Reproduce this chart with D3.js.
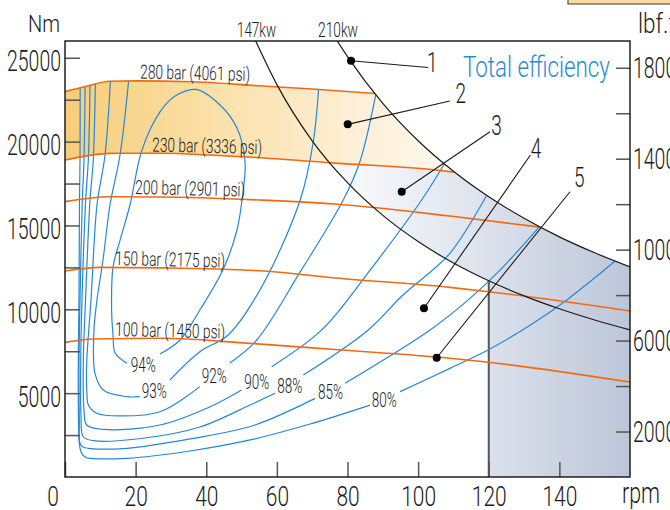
<!DOCTYPE html>
<html><head><meta charset="utf-8">
<script src="https://cdn.jsdelivr.net/npm/d3@7"></script>
<style>
html,body{margin:0;padding:0;background:#fff;overflow:hidden}
svg{display:block}
text{font-family:Roboto,"Liberation Sans",Arial,sans-serif;font-weight:300;fill:#1a1a1a}
</style></head><body>
<svg id="chart" width="670" height="510"></svg>
<script>
// ---------- data ----------
const rpmTicks = [0, 20, 40, 60, 80, 100, 120, 140];
const torqueTicks = [5000, 10000, 15000, 20000, 25000];
const torqueMinorTicks = [2500, 7500, 12500, 17500, 22500];
const lbfTicks = [2000, 6000, 10000, 14000, 18000];
const lbfMinorTicks = [4000, 8000, 12000, 16000];

// pressure lines [rpm, Nm]
const bar280 = [[0,22980],[6,23300],[12.7,23600],[20,23620],[36,23570],[55,23330],[71,23120],[87.8,22870]];
const bar230 = [[0,18900],[12.7,19300],[27,19310],[41,19200],[55,19040],[76.5,18720],[109,18210],[110.4,18170]];
const bar200 = [[0,16420],[12.7,16710],[27,16700],[55,16520],[76.5,16280],[109,15560],[134.6,14900]];
const bar150 = [[0,12280],[9.9,12500],[27,12470],[55,12300],[76.5,11870],[109,11310],[120,11050],[160,9900]];
const bar100 = [[0,8030],[7.9,8230],[27,8270],[52.4,7970],[76.5,7600],[109,7080],[120,6840],[160,5660]];
const pressureNames = ["280 bar (4061 psi)","230 bar (3336 psi)","200 bar (2901 psi)","150 bar (2175 psi)","100 bar (1450 psi)"];

// power curves [rpm, Nm]
const kw147 = [[54,26000],[60,23400],[70,20050],[80,17550],[90,15600],[100,14040],[110,12760],[120,11700],[130,10800],[140,10030],[150,9360],[160,8770]];
const kw210 = [[77.1,26000],[80,25070],[90,22280],[100,20050],[110,18230],[120,16710],[130,15430],[140,14320],[150,13370],[160,12530]];
const powerNames = ["147kw","210kw"];
const limitRpm = 120;

// efficiency contours: a = before label, b = after label
const eff80a = [[4.3,23500],[4.25,18900],[4.11,16520],[3.96,10560],[3.77,6800],[3.82,3400],[4.11,1910],[4.73,1410],[5.95,1160],[7.08,1115],[17.5,1115],[35.4,1550],[52.4,2210],[69.4,3160],[86.4,4290]];
const eff80b = [[94.9,5090],[109,6480],[120.2,7620],[131.8,9060],[142.1,10560],[156.5,13000]];
const eff85a = [[5.7,23500],[5.38,18900],[4.9,16520],[4.25,10560],[3.96,6800],[4.05,3400],[4.25,2010],[5.1,1790],[6.6,1710],[17.5,1710],[35.4,2270],[53.8,3100],[70.8,4690]];
const eff85b = [[79.3,5590],[103.4,8770],[114.2,10560],[123.2,12340],[135.5,15200]];
const eff88a = [[7.1,23550],[6.6,18900],[5.86,16520],[4.81,10560],[4.45,6800],[4.53,3700],[5.18,2400],[8.01,2165],[22.2,2310],[38.2,2980],[52.4,4290],[59.5,4990]];
const eff88b = [[67.5,6080],[85.9,8770],[95.7,10850],[109,13340],[120.2,17100]];
const eff90a = [[8.6,23600],[8.01,18900],[7.08,16520],[5.81,10560],[5.18,6800],[5.38,4000],[6.15,3100],[10.85,2840],[26.9,3100],[41.1,4190],[50,5190]];
const eff90b = [[58.5,6580],[72.7,8770],[86.4,12340],[101,16520],[108.1,18900]];
const eff92a = [[12.9,23800],[11.33,19200],[9.06,16220],[7.36,10560],[6.15,6800],[6.23,4890],[6.6,4290],[8.98,3800],[15.6,3640],[26.9,3890],[38.2,5390]];
const eff92b = [[46.7,6800],[54.3,8170],[66.6,12230],[78.8,16520],[83.5,18800],[88.3,23100]];
const eff93a = [[18.1,23800],[15.58,19200],[12.74,16220],[10.76,12940],[9.06,10560],[8.21,8770],[8.5,6180],[10.85,5190],[17.5,4790],[21.2,4790]];
const eff93b = [[29.7,5780],[38.2,7470],[46.2,8470],[55.2,11150],[66.6,16520],[70.3,19990],[71.9,23400]];
const eff94 = [[26.9,7340],[32.6,8170],[38.2,9960],[44.7,12340],[48.7,14730],[50.4,17000],[51,18780],[48.7,20810],[43.9,22180],[37.1,23110],[31.2,22720],[26.9,21770],[21.8,19500],[18.4,16220],[15.6,14130],[13.6,12520],[13.2,9960],[13.6,8470],[14.2,7390],[17.5,6780]];
const effLabels = ["94%","93%","92%","90%","88%","85%","80%"];

// callouts: dot [rpm,Nm], leader end [rpm,Nm], label pos [rpm,Nm]
const calloutNames = ["1","2","3","4","5"];
const calloutDots = [[81.0,24820],[80.06,21030],[95.35,17010],[101.66,10060],[105.26,7110]];
const calloutEnds = [[102.8,24420],[109.0,22420],[120.35,20590],[131.8,19200],[143.0,17010]];
const calloutLabels = [[104.0,24170],[112.1,22280],[122.2,20390],[133.4,19000],[145.6,17310]];

// ---------- layout ----------
const svg = d3.select("#chart");
const x = d3.scaleLinear().domain([0,160]).range([65,630]);
const y = d3.scaleLinear().domain([0,26000]).range([477,41]);
const y2 = d3.scaleLinear().domain([0,26000/1.35582]).range([477,41]);

const lineM = d3.line().x(d=>x(d[0])).y(d=>y(d[1])).curve(d3.curveMonotoneX);
const lineC = d3.line().x(d=>x(d[0])).y(d=>y(d[1])).curve(d3.curveCatmullRom.alpha(0.5));
const cont = s => s.replace(/^M/,"L");
const P = (a,b) => `${x(a)},${y(b)}`;

const defs = svg.append("defs");
function underClip(id, pts){
  const last = pts[pts.length-1];
  defs.append("clipPath").attr("id",id).append("path")
    .attr("d", `M${P(0,0)}L${P(0,pts[0][1])}` + cont(lineM(pts)) + `L${P(160,last[1])}L${P(160,0)}Z`);
}
underClip("clip280", bar280);
underClip("clip230", bar230);
underClip("clip210", kw210);
defs.append("clipPath").attr("id","clipPlot").append("rect")
  .attr("x",x(0)).attr("y",y(26000)).attr("width",x(160)-x(0)).attr("height",y(0)-y(26000));

const gOr = defs.append("linearGradient").attr("id","gOr").attr("gradientUnits","userSpaceOnUse")
  .attr("x1",x(0)).attr("x2",x(112)).attr("y1",0).attr("y2",0);
[[0,"#f7cd78"],[0.4,"#fbe1ab"],[0.72,"#fdefd4"],[1,"#fffaf1"]].forEach(s=>gOr.append("stop").attr("offset",s[0]).attr("stop-color",s[1]));
const gBl = defs.append("linearGradient").attr("id","gBl").attr("gradientUnits","userSpaceOnUse")
  .attr("x1",x(75)).attr("x2",x(160)).attr("y1",0).attr("y2",0);
[[0,"#fbfcfd"],[0.38,"#e5e9f1"],[1,"#bcc6d8"]].forEach(s=>gBl.append("stop").attr("offset",s[0]).attr("stop-color",s[1]));

// top-right box (partially visible)
svg.append("rect").attr("x",568).attr("y",-20).attr("width",120).attr("height",24)
  .attr("fill","#fbd99d").attr("stroke","#555").attr("stroke-width",1.2);

const plot = svg.append("g").attr("clip-path","url(#clipPlot)");

// orange band between 280 and 230 bar, under 210 kW
plot.append("g").attr("clip-path","url(#clip210)").append("path")
  .attr("d", lineM(bar280) + cont(lineM(bar230.slice().reverse())) + "Z")
  .attr("fill","url(#gOr)");

// blue region between power curves (under 230 bar) and right of limit rpm
const kw147Part = kw147.filter(d=>d[0]<=limitRpm).reverse();
plot.append("g").attr("clip-path","url(#clip230)").append("path")
  .attr("d", lineM(kw210) + `L${P(160,0)}L${P(limitRpm,0)}` + cont(lineM(kw147Part)) + "Z")
  .attr("fill","url(#gBl)");

// limit line at 120 rpm
const limTop = kw147.find(d=>d[0]===limitRpm);
plot.append("line").attr("x1",x(limitRpm)).attr("x2",x(limitRpm))
  .attr("y1",y(limTop[1])).attr("y2",y(0)).attr("stroke","#555").attr("stroke-width",2);

// efficiency contours
const cg = plot.append("g").attr("clip-path","url(#clip210)").append("g").attr("clip-path","url(#clip280)");
[eff80a,eff80b,eff85a,eff85b,eff88a,eff88b,eff90a,eff90b,eff92a,eff92b,eff93a,eff93b,eff94].forEach(c=>{
  cg.append("path").attr("d",lineC(c)).attr("fill","none").attr("stroke","#2487da").attr("stroke-width",1.2);
});

// pressure lines
[bar280,bar230,bar200,bar150,bar100].forEach(b=>{
  plot.append("path").attr("d",lineM(b)).attr("fill","none").attr("stroke","#f26a10").attr("stroke-width",1.6);
});

// power curves
[kw147,kw210].forEach(k=>{
  plot.append("path").attr("d",lineM(k)).attr("fill","none").attr("stroke","#1a1a1a").attr("stroke-width",1.2);
});

// ---------- axes ----------
function styleAxis(g){ g.select(".domain").remove(); g.selectAll(".tick line").attr("stroke","#555").attr("stroke-width",1.5); g.selectAll("text").attr("font-family",null); }
const majorSet = new Set(torqueTicks);
const gl = svg.append("g").attr("transform",`translate(${x(0)},0)`)
  .call(d3.axisLeft(y).tickValues([...torqueTicks,...torqueMinorTicks]).tickSize(-15).tickPadding(4).tickFormat(d=>majorSet.has(d)?d:""));
styleAxis(gl);
gl.selectAll("text").attr("font-size",29).attr("dy",13).each(function(){ const s=this.textContent; if(s) d3.select(this).attr("textLength",s.length*10.8).attr("lengthAdjust","spacingAndGlyphs"); });

const gb = svg.append("g").attr("transform",`translate(0,${y(0)})`)
  .call(d3.axisBottom(x).tickValues(rpmTicks).tickSize(-15).tickFormat(d=>d));
styleAxis(gb);
gb.selectAll("text").attr("font-size",28).attr("y",29).attr("dy",0).each(function(d){
  const s=this.textContent; d3.select(this).attr("textLength",s.length*11.6).attr("lengthAdjust","spacingAndGlyphs");
  if(d===0) d3.select(this).attr("x",-12.5);
});

const lbfSet = new Set(lbfTicks);
const gr = svg.append("g").attr("transform",`translate(${x(160)},0)`)
  .call(d3.axisRight(y2).tickValues([...lbfTicks,...lbfMinorTicks]).tickSize(-14).tickPadding(3).tickFormat(d=>lbfSet.has(d)?d:""));
styleAxis(gr);
gr.selectAll("text").attr("font-size",29).attr("dy",10).each(function(){ const s=this.textContent; if(s) d3.select(this).attr("textLength",s.length*10.8).attr("lengthAdjust","spacingAndGlyphs"); });

// frame
svg.append("rect").attr("x",x(0)).attr("y",y(26000)).attr("width",x(160)-x(0)).attr("height",y(0)-y(26000))
  .attr("fill","none").attr("stroke","#111").attr("stroke-width",1.4);

// ---------- text ----------
function txt(str,px,py,fs,w,anchor,color,rot){
  const t = svg.append("text").attr("x",px).attr("y",py).attr("font-size",fs)
    .attr("text-anchor",anchor||"start").text(str);
  if(w) t.attr("textLength",w).attr("lengthAdjust","spacingAndGlyphs");
  if(color) t.style("fill",color);
  if(rot) t.attr("transform",`rotate(${rot},${px},${py})`);
  return t;
}
txt("Nm",28,32,24,32);
txt("lbf.ft",638,33,27,45);
txt("rpm",622,503,29,38);
txt(powerNames[0],256.5,36.7,20,39,"middle");
txt(powerNames[1],338,36.7,20,40,"middle");
txt("Total efficiency",463,77,30,147,"start","#2a8ad8");

// pressure labels
const pPos = [[140,78.5],[152,151.5],[135,194],[115,265],[115,336]];
pressureNames.forEach((n,i)=>txt(n,pPos[i][0],pPos[i][1],19.5,110,"start",null,1.3));

// efficiency labels
const ePos = [[143.3,371.5],[154.2,397.5],[214.2,382.5],[256.7,388.5],[289.7,392.5],[330.5,398.5],[384.2,407]];
effLabels.forEach((n,i)=>txt(n,ePos[i][0],ePos[i][1],21,25,"middle"));

// callouts
calloutNames.forEach((n,i)=>{
  svg.append("line").attr("x1",x(calloutDots[i][0])).attr("y1",y(calloutDots[i][1]))
    .attr("x2",x(calloutEnds[i][0])).attr("y2",y(calloutEnds[i][1]))
    .attr("stroke","#1a1a1a").attr("stroke-width",1.1);
  svg.append("circle").attr("cx",x(calloutDots[i][0])).attr("cy",y(calloutDots[i][1])).attr("r",4).attr("fill","#000");
  txt(n,x(calloutLabels[i][0]),y(calloutLabels[i][1]),27,10.5,"middle");
});
</script>
</body></html>
